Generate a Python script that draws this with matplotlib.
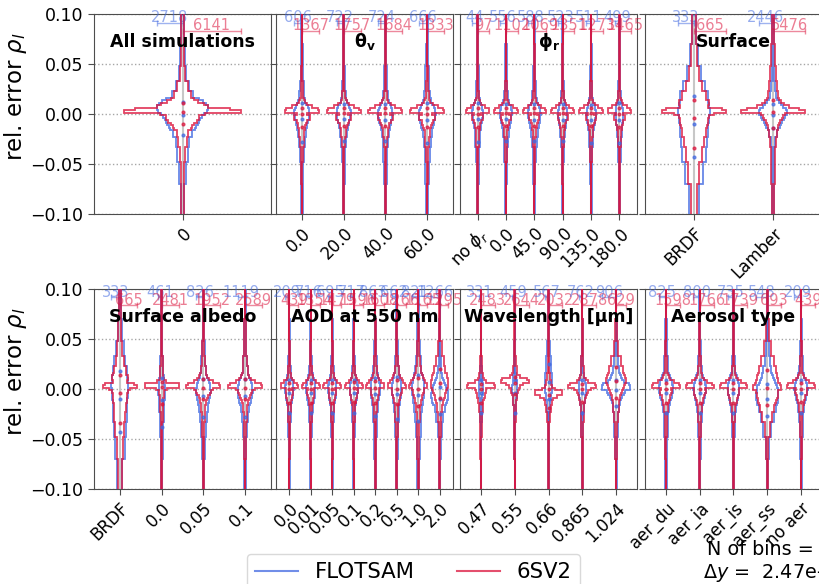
import numpy as np
import matplotlib.pyplot as plt
from matplotlib.lines import Line2D

# histogram layout: 81 bins over [-0.1, 0.1]
N_BINS = 81
Y_MAX = 0.1
# bins merged in the tails (outermost group first); the 13 central bins are kept one by one
TAIL_GROUPS = [12, 9, 6, 4, 3]

BLUE = 'royalblue'
RED = 'crimson'
WIDTH = 0.41  # half-width of the widest bin in a category (x units)

# ---- categories -------------------------------------------------------------
cat_all = ['0']
cat_vza = ['0.0', '20.0', '40.0', '60.0']
cat_raa = [r'no $\phi_r$', '0.0', '45.0', '90.0', '135.0', '180.0']
cat_surf = ['BRDF', 'Lamber']
cat_alb = ['BRDF', '0.0', '0.05', '0.1']
cat_aod = ['0.0', '0.01', '0.05', '0.1', '0.2', '0.5', '1.0', '2.0']
cat_wl = ['0.47', '0.55', '0.66', '0.865', '1.024']
cat_aer = ['aer_du', 'aer_ia', 'aer_is', 'aer_ss', 'no aer']

# ---- peak bin counts (FLOTSAM / 6SV2) -----------------------------------------
fl_all, sv_all = [2718], [6141]
fl_vza, sv_vza = [606, 722, 724, 666], [1367, 1757, 1684, 1333]
fl_raa, sv_raa = [44, 556, 588, 523, 511, 499], [97, 1102, 1069, 1351, 1273, 1465]
fl_surf, sv_surf = [333, 2446], [665, 5476]
fl_alb, sv_alb = [333, 461, 826, 1119], [665, 2481, 1952, 2589]
fl_aod, sv_aod = [209, 716, 695, 717, 863, 662, 821, 1266], [439, 1354, 1479, 1596, 1608, 1266, 1165, 1295]
fl_wl, sv_wl = [331, 459, 567, 762, 906], [2483, 2644, 2032, 2878, 629]
fl_aer, sv_aer = [825, 800, 735, 548, 209], [1598, 1766, 1739, 693, 439]

# ---- histogram shapes, % of the peak bin ------------------------------------
# 5 low-tail groups, 13 central bins (y = -0.015 ... +0.015), 5 high-tail groups
shp_fl_all = [[7, 12, 20, 27, 37, 47, 53, 58, 63, 66, 74, 82, 93, 100, 97, 90, 78, 63, 39, 24, 14, 8, 4]]
shp_sv_all = [[2, 3, 5, 8, 10, 14, 17, 20, 24, 29, 29, 38, 100, 81, 43, 36, 26, 19, 14, 9, 5, 3, 2]]

shp_fl_vza = [
    [10, 18, 28, 40, 50, 58, 65, 72, 80, 88, 95, 100, 98, 92, 80, 60, 45, 38, 32, 26, 18, 12, 7],
    [9, 16, 26, 38, 48, 56, 64, 72, 80, 88, 94, 100, 98, 90, 78, 58, 44, 36, 30, 24, 16, 10, 6],
    [9, 16, 26, 38, 50, 58, 66, 74, 82, 90, 96, 100, 96, 88, 76, 58, 44, 36, 30, 24, 16, 10, 6],
    [11, 20, 30, 42, 54, 62, 68, 76, 84, 90, 96, 100, 96, 88, 76, 60, 48, 40, 34, 27, 19, 12, 7],
]
shp_sv_vza = [
    [1.5, 3, 6, 10, 14, 17, 20, 25, 30, 45, 45, 28, 100, 95, 60, 30, 18, 12, 8, 5, 3, 2, 1.5],
    [1.5, 3, 5, 9, 13, 16, 19, 24, 30, 44, 42, 27, 100, 92, 58, 30, 18, 12, 8, 5, 3, 2, 1.5],
    [1.5, 3, 5, 9, 13, 16, 19, 24, 30, 44, 42, 27, 100, 92, 58, 30, 18, 12, 8, 5, 3, 2, 1.5],
    [2, 3, 6, 10, 15, 18, 22, 27, 32, 46, 46, 30, 100, 95, 62, 32, 19, 13, 9, 6, 3, 2, 1.5],
]

shp_fl_raa = [
    [10, 18, 28, 40, 50, 58, 65, 72, 80, 88, 95, 100, 98, 92, 80, 60, 45, 38, 32, 26, 18, 12, 7],
    [9, 16, 26, 38, 48, 56, 64, 72, 80, 88, 94, 100, 98, 90, 78, 58, 44, 36, 30, 24, 16, 10, 6],
    [9, 16, 26, 38, 50, 58, 66, 74, 82, 90, 96, 100, 96, 88, 76, 58, 44, 36, 30, 24, 16, 10, 6],
    [9, 16, 26, 38, 50, 58, 66, 74, 82, 90, 96, 100, 96, 88, 76, 58, 44, 36, 30, 24, 16, 10, 6],
    [10, 18, 28, 40, 52, 60, 67, 75, 83, 90, 96, 100, 96, 88, 76, 58, 44, 36, 30, 24, 16, 10, 6],
    [11, 20, 30, 42, 54, 62, 68, 76, 84, 90, 96, 100, 96, 88, 76, 60, 48, 40, 34, 27, 19, 12, 7],
]
shp_sv_raa = [
    [2, 3, 6, 10, 14, 17, 20, 25, 30, 45, 45, 28, 100, 95, 60, 30, 18, 12, 8, 5, 3, 2, 1.5],
    [1.5, 3, 5, 9, 13, 16, 19, 24, 30, 44, 42, 27, 100, 92, 58, 30, 18, 12, 8, 5, 3, 2, 1.5],
    [1.5, 3, 5, 9, 13, 16, 19, 24, 30, 44, 42, 27, 100, 92, 58, 30, 18, 12, 8, 5, 3, 2, 1.5],
    [1.5, 3, 5, 9, 13, 16, 19, 24, 30, 44, 42, 27, 100, 92, 58, 30, 18, 12, 8, 5, 3, 2, 1.5],
    [1.5, 3, 5, 9, 13, 16, 19, 24, 30, 44, 42, 27, 100, 92, 58, 30, 18, 12, 8, 5, 3, 2, 1.5],
    [2, 3, 6, 10, 15, 18, 22, 27, 32, 46, 46, 30, 100, 95, 62, 32, 19, 13, 9, 6, 3, 2, 1.5],
]

shp_fl_surf = [[30, 55, 72, 80, 85, 85, 86, 88, 90, 92, 94, 96, 100, 98, 95, 92, 88, 86, 85, 65, 45, 25, 12],
               [4, 6, 10, 15, 25, 35, 45, 55, 65, 75, 85, 95, 100, 90, 70, 55, 40, 30, 22, 14, 9, 6, 4]]
shp_sv_surf = [[10, 17, 26, 32, 36, 37, 40, 42, 42, 42, 45, 62, 100, 85, 42, 47, 45, 38, 37, 25, 14, 9, 5],
               [4, 5, 7, 9, 12, 14, 16, 18, 22, 27, 32, 38, 100, 80, 48, 33, 24, 19, 15, 11, 8, 5, 3]]

shp_fl_alb = [
    [30, 55, 72, 80, 85, 85, 86, 88, 90, 92, 94, 96, 100, 98, 95, 92, 88, 86, 85, 65, 45, 25, 12],
    [20, 35, 50, 62, 72, 80, 86, 92, 96, 100, 100, 98, 96, 90, 80, 70, 60, 52, 45, 36, 26, 16, 9],
    [10, 18, 30, 45, 58, 68, 76, 84, 90, 96, 100, 98, 94, 88, 78, 65, 52, 42, 34, 26, 18, 11, 6],
    [10, 18, 30, 45, 58, 68, 76, 84, 90, 96, 100, 98, 94, 88, 78, 65, 52, 42, 34, 26, 18, 11, 6],
]
shp_sv_alb = [
    [10, 17, 26, 32, 36, 37, 40, 42, 42, 42, 45, 62, 100, 85, 42, 47, 45, 38, 37, 25, 14, 9, 5],
    [3, 4, 5, 6, 7, 8, 9, 10, 11, 13, 15, 32, 100, 100, 25, 12, 10, 9, 8, 6, 4, 3, 2],
    [2, 4, 6, 9, 12, 15, 18, 22, 28, 36, 42, 55, 100, 90, 55, 35, 24, 18, 14, 10, 6, 4, 2],
    [2, 4, 6, 9, 12, 15, 18, 22, 28, 36, 42, 55, 100, 90, 55, 35, 24, 18, 14, 10, 6, 4, 2],
]

shp_fl_aod = [
    [8, 14, 22, 32, 42, 52, 62, 72, 82, 90, 96, 100, 96, 90, 80, 66, 52, 42, 32, 22, 14, 8, 4],
    [8, 14, 22, 32, 42, 52, 62, 72, 82, 90, 96, 100, 96, 90, 80, 66, 52, 42, 32, 22, 14, 8, 4],
    [8, 14, 22, 32, 42, 52, 62, 72, 82, 90, 96, 100, 96, 90, 80, 66, 52, 42, 32, 22, 14, 8, 4],
    [8, 14, 22, 32, 42, 52, 62, 72, 82, 90, 96, 100, 96, 90, 80, 66, 52, 42, 32, 22, 14, 8, 4],
    [10, 18, 28, 38, 48, 58, 68, 78, 86, 92, 97, 100, 97, 92, 84, 72, 60, 50, 40, 28, 18, 10, 5],
    [12, 22, 34, 46, 56, 64, 72, 80, 88, 94, 98, 100, 98, 94, 86, 76, 66, 56, 46, 34, 22, 12, 6],
    [15, 26, 40, 52, 62, 70, 78, 85, 91, 96, 100, 100, 96, 92, 86, 78, 70, 62, 52, 40, 26, 14, 7],
    [4, 10, 22, 40, 60, 75, 85, 95, 100, 98, 92, 85, 75, 62, 50, 40, 32, 26, 20, 12, 6, 3, 2],
]
shp_sv_aod = [
    [2, 4, 6, 10, 14, 18, 22, 26, 32, 40, 42, 35, 100, 90, 55, 30, 20, 14, 10, 6, 4, 2, 1.5],
    [2, 4, 6, 10, 14, 18, 22, 26, 32, 40, 42, 35, 100, 90, 55, 30, 20, 14, 10, 6, 4, 2, 1.5],
    [2, 4, 6, 10, 14, 18, 22, 26, 32, 40, 42, 35, 100, 90, 55, 30, 20, 14, 10, 6, 4, 2, 1.5],
    [2, 4, 6, 10, 14, 18, 22, 26, 32, 40, 44, 38, 100, 92, 58, 34, 22, 16, 12, 7, 4, 2, 1.5],
    [3, 5, 8, 12, 16, 20, 25, 30, 36, 44, 48, 44, 100, 94, 66, 44, 30, 22, 16, 9, 5, 3, 2],
    [3, 6, 10, 15, 20, 25, 30, 36, 42, 50, 55, 55, 100, 96, 75, 55, 40, 30, 22, 12, 6, 3, 2],
    [4, 8, 13, 19, 25, 30, 36, 42, 48, 56, 62, 66, 100, 98, 82, 64, 50, 40, 30, 18, 9, 4, 2],
    [3, 6, 12, 20, 28, 34, 40, 48, 56, 64, 72, 85, 95, 100, 96, 90, 84, 78, 66, 45, 22, 8, 3],
]

shp_fl_wl = [
    [8, 14, 22, 32, 42, 52, 62, 72, 82, 90, 96, 100, 96, 90, 80, 66, 52, 42, 32, 22, 14, 8, 4],
    [8, 14, 22, 32, 42, 52, 62, 72, 82, 90, 96, 100, 96, 90, 80, 66, 52, 42, 32, 22, 14, 8, 4],
    [6, 10, 16, 24, 32, 40, 48, 56, 64, 72, 80, 86, 92, 96, 100, 98, 94, 88, 76, 56, 32, 16, 8],
    [8, 14, 22, 32, 42, 52, 62, 72, 82, 90, 96, 100, 96, 90, 80, 66, 52, 42, 32, 22, 14, 8, 4],
    [4, 8, 12, 16, 20, 25, 30, 38, 46, 55, 68, 100, 100, 95, 55, 45, 38, 30, 22, 14, 8, 4, 2],
]
shp_sv_wl = [
    [2, 4, 6, 9, 12, 15, 18, 22, 26, 30, 34, 40, 100, 96, 40, 24, 16, 12, 9, 5, 3, 2, 1.5],
    [1.5, 2, 4, 6, 8, 10, 12, 14, 16, 20, 24, 30, 38, 60, 100, 90, 35, 20, 14, 8, 5, 3, 2],
    [2, 4, 7, 12, 18, 22, 26, 30, 60, 100, 95, 45, 28, 20, 16, 13, 11, 9, 7, 4, 3, 2, 1.5],
    [2, 4, 6, 9, 12, 15, 18, 22, 26, 34, 40, 60, 100, 90, 40, 24, 16, 12, 9, 6, 4, 2, 1.5],
    [3, 8, 15, 22, 27, 30, 34, 40, 46, 52, 60, 70, 80, 90, 100, 100, 95, 85, 70, 50, 25, 10, 4],
]

shp_fl_aer = [
    [8, 14, 22, 32, 42, 52, 62, 72, 82, 90, 96, 100, 96, 90, 80, 66, 52, 42, 32, 22, 14, 8, 4],
    [8, 14, 22, 32, 42, 52, 62, 72, 82, 90, 96, 100, 96, 90, 80, 66, 52, 42, 32, 22, 14, 8, 4],
    [8, 14, 22, 32, 42, 52, 62, 72, 82, 90, 96, 100, 96, 90, 80, 66, 52, 42, 32, 22, 14, 8, 4],
    [6, 14, 35, 60, 80, 92, 96, 100, 100, 100, 98, 96, 90, 80, 70, 60, 52, 45, 35, 22, 12, 6, 3],
    [8, 14, 22, 32, 42, 52, 62, 72, 82, 90, 96, 100, 96, 90, 80, 66, 52, 42, 32, 22, 14, 8, 4],
]
shp_sv_aer = [
    [2, 4, 6, 10, 14, 18, 22, 26, 32, 40, 42, 38, 100, 92, 56, 32, 20, 14, 10, 6, 4, 2, 1.5],
    [2, 4, 6, 10, 14, 18, 22, 26, 32, 40, 42, 38, 100, 92, 56, 32, 20, 14, 10, 6, 4, 2, 1.5],
    [2, 4, 6, 10, 14, 18, 22, 26, 32, 40, 42, 38, 100, 92, 56, 32, 20, 14, 10, 6, 4, 2, 1.5],
    [3, 8, 18, 35, 50, 58, 64, 70, 76, 77, 80, 100, 100, 92, 80, 74, 71, 70, 62, 45, 25, 10, 4],
    [2, 4, 6, 10, 14, 18, 22, 26, 32, 40, 44, 40, 100, 92, 58, 34, 22, 15, 10, 6, 4, 2, 1.5],
]

titles = ['All simulations', r'$\mathbf{\theta_v}$', r'$\mathbf{\phi_r}$', 'Surface',
          'Surface albedo', 'AOD at 550 nm', 'Wavelength [μm]', 'Aerosol type']

panels = [
    (cat_all, fl_all, sv_all, shp_fl_all, shp_sv_all),
    (cat_vza, fl_vza, sv_vza, shp_fl_vza, shp_sv_vza),
    (cat_raa, fl_raa, sv_raa, shp_fl_raa, shp_sv_raa),
    (cat_surf, fl_surf, sv_surf, shp_fl_surf, shp_sv_surf),
    (cat_alb, fl_alb, sv_alb, shp_fl_alb, shp_sv_alb),
    (cat_aod, fl_aod, sv_aod, shp_fl_aod, shp_sv_aod),
    (cat_wl, fl_wl, sv_wl, shp_fl_wl, shp_sv_wl),
    (cat_aer, fl_aer, sv_aer, shp_fl_aer, shp_sv_aer),
]


def expand(shape, peak):
    """Turn a compressed shape (in % of the peak) into counts for all 81 bins."""
    s = np.asarray(shape, dtype=float)
    low = np.repeat(s[:5], TAIL_GROUPS)
    high = np.repeat(s[18:], TAIL_GROUPS[::-1])
    return np.concatenate([low, s[5:18], high]) * peak / 100.0


edges = np.linspace(-Y_MAX, Y_MAX, N_BINS + 1)
centers = 0.5 * (edges[1:] + edges[:-1])

W, H = 820, 584
fig = plt.figure(figsize=(W / 100, H / 100), dpi=100)
lefts = [94, 276, 460, 645]
tops = [14, 289]

for k, (cats, fl_pk, sv_pk, fl_shp, sv_shp) in enumerate(panels):
    row, col = divmod(k, 4)
    ax = fig.add_axes([lefts[col] / W, 1 - (tops[row] + 200) / H, 177 / W, 200 / H])
    n = len(cats)
    for i in range(n):
        scale = WIDTH / max(fl_pk[i], sv_pk[i])
        ax.vlines(i, -Y_MAX, Y_MAX, color='0.78', lw=1.5, zorder=1)
        for peak, shp, color, side, ybar in ((fl_pk[i], fl_shp[i], BLUE, -1, 0.0915),
                                             (sv_pk[i], sv_shp[i], RED, 1, 0.0835)):
            counts = expand(shp, peak)
            w = counts * scale
            ax.stairs(i + w, edges, orientation='horizontal', baseline=None,
                      color=color, lw=1.3, alpha=0.8, zorder=3)
            ax.stairs(i - w, edges, orientation='horizontal', baseline=None,
                      color=color, lw=1.3, alpha=0.8, zorder=3)
            # quartiles of the histogram as small dots
            cdf = np.cumsum(counts) / counts.sum()
            q = np.interp([0.25, 0.5, 0.75], cdf, centers)
            ax.plot([i] * 3, q, 'o', ms=2, color=color, alpha=0.7, zorder=4)
            # width scale bar with the peak count
            half = peak * scale / 2
            ax.errorbar(i + side * half, ybar, xerr=half, color=color, alpha=0.5,
                        lw=1, capsize=2, zorder=2)
            ax.text(i + side * half, ybar, str(peak), color=color, alpha=0.55,
                    fontsize=10.5, ha='center', va='baseline', clip_on=False)

    ax.set_xlim(-0.62, n - 1 + 0.62)
    ax.set_ylim(-Y_MAX, Y_MAX)
    ax.set_yticks([-0.1, -0.05, 0.0, 0.05, 0.1])
    ax.grid(axis='y', ls=':', color='0.65', lw=1)
    ax.set_axisbelow(True)
    ax.set_xticks(range(n))
    ax.set_xticklabels(cats, rotation=45, ha='right', rotation_mode='anchor', fontsize=12)
    ax.tick_params(axis='y', labelsize=12.5, length=4, color='0.3')
    ax.tick_params(axis='x', length=4, color='0.3')
    for sp in ax.spines.values():
        sp.set_color('0.3')
    if col == 0:
        ax.set_ylabel(r'rel. error $\rho_l$', fontsize=16.5)
        ax.yaxis.set_label_coords(-0.37, 0.587)
    else:
        ax.tick_params(axis='y', labelleft=False)
    ax.text(0.5, 0.86, titles[k], transform=ax.transAxes, ha='center', va='center',
            fontsize=12.5, fontweight='bold')

handles = [Line2D([], [], color=BLUE, alpha=0.75, lw=1.5), Line2D([], [], color=RED, alpha=0.75, lw=1.5)]
fig.legend(handles, ['FLOTSAM', '6SV2'], loc='upper center', bbox_to_anchor=(0.504, 1 - 554 / H),
           borderaxespad=0, ncol=2, fontsize=15.3, framealpha=1, edgecolor='0.85')

dy = 2 * Y_MAX / N_BINS
fig.text(0.946, 1 - 562 / H, f'N of bins = {N_BINS}\n$\\Delta y$ = {dy: .2e}', ha='center',
         va='center', multialignment='center', fontsize=13.8)

fig.savefig('out.png', dpi=100)
